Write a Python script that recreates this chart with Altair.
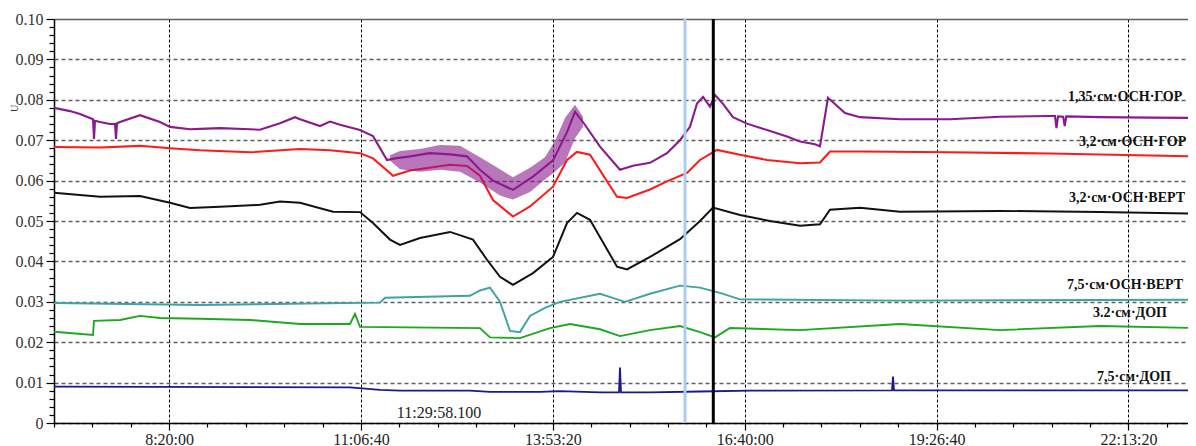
import altair as alt
import pandas as pd

# time in seconds since midnight, values in U
purple_t = [24000, 24834, 25355, 26033, 26085, 26137, 26398, 26919, 27179, 27231, 27283, 27440, 28482, 29525,
            30046, 31088, 31610, 32652, 34215, 34737, 35779, 36561, 36822, 37864, 38385, 38906, 39949, 40626,
            41356, 41773, 42555, 43598, 44640, 45526, 46203, 46880, 47923, 48965, 50008, 50738, 51155, 51571,
            52458, 53500, 54177, 55064, 55950, 56627, 57148, 57513, 57826, 58191, 58452, 58868, 59389, 60119,
            61162, 62204, 62882, 63663, 63924, 64341, 65227, 66009, 68094, 70700, 73306, 75912,
            76172, 76250, 76330, 76600, 76680, 76760, 78518, 81124, 83469]
purple_v = [0.0780, 0.0772, 0.0765, 0.0752, 0.0703, 0.0748, 0.0745, 0.0740, 0.0740, 0.0703, 0.0742, 0.0745, 0.0762, 0.0745,
            0.0733, 0.0727, 0.0728, 0.0730, 0.0727, 0.0726, 0.0742, 0.0757, 0.0752, 0.0735, 0.0746, 0.0738, 0.0725, 0.0710,
            0.0651, 0.0655, 0.0660, 0.0668, 0.0665, 0.0660, 0.0627, 0.0600, 0.0577, 0.0610, 0.0650, 0.0720, 0.0770, 0.0745,
            0.0684, 0.0627, 0.0637, 0.0644, 0.0668, 0.0700, 0.0733, 0.0791, 0.0807, 0.0783, 0.0812, 0.0790, 0.0757, 0.0741,
            0.0725, 0.0709, 0.0697, 0.0690, 0.0685, 0.0805, 0.0767, 0.0757, 0.0752, 0.0752, 0.0758, 0.0760,
            0.0760, 0.0730, 0.0759, 0.0758, 0.0735, 0.0759, 0.0757, 0.0756, 0.0755]

# noisy band of the purple trace
band_t = [41512, 42034, 43076, 44119, 45161, 46203, 47245, 47923, 48809, 49591, 50112, 50633, 51155, 51571]
band_lo = [0.0650, 0.0628, 0.0622, 0.0627, 0.0622, 0.0595, 0.0563, 0.0553, 0.0572, 0.0603, 0.0622, 0.0645, 0.0705, 0.0733]
band_hi = [0.0663, 0.0673, 0.0678, 0.0688, 0.0686, 0.0658, 0.0628, 0.0608, 0.0632, 0.0658, 0.0698, 0.0755, 0.0788, 0.0758]

red_t = [24000, 26398, 28482, 30046, 31610, 34215, 36822, 38385, 39949, 40626, 41356, 41669, 42555, 44640, 45526,
         46203, 46880, 47923, 48809, 50008, 50738, 51259, 51936, 53344, 53865, 55064, 55950, 56992, 57670, 58556,
         59754, 61162, 62882, 63924, 64445, 66009, 70700, 75912, 83469]
red_v = [0.0683, 0.0682, 0.0686, 0.0680, 0.0675, 0.0670, 0.0678, 0.0675, 0.0668, 0.0655, 0.0625, 0.0612, 0.0625, 0.0639, 0.0636,
         0.0612, 0.0552, 0.0511, 0.0536, 0.0585, 0.0651, 0.0671, 0.0664, 0.0560, 0.0557, 0.0578, 0.0598, 0.0619, 0.0651, 0.0676,
         0.0664, 0.0651, 0.0643, 0.0645, 0.0672, 0.0672, 0.0670, 0.0667, 0.0660]

black_t = [24000, 26398, 28482, 30046, 31088, 32652, 34737, 35779, 36822, 38541, 39949, 40626, 41512, 42034, 43076,
           44640, 45838, 46568, 47245, 47923, 48965, 50008, 50738, 51259, 51936, 53344, 53865, 55064, 56627, 57670,
           58347, 59754, 61318, 62882, 63924, 64445, 66009, 68094, 73306, 78518, 83469]
black_v = [0.0570, 0.0560, 0.0562, 0.0545, 0.0532, 0.0535, 0.0540, 0.0548, 0.0545, 0.0523, 0.0522, 0.0495, 0.0454, 0.0441, 0.0458,
           0.0473, 0.0454, 0.0404, 0.0362, 0.0342, 0.0371, 0.0411, 0.0495, 0.0520, 0.0503, 0.0387, 0.0380, 0.0411, 0.0455, 0.0500,
           0.0533, 0.0515, 0.0500, 0.0488, 0.0492, 0.0528, 0.0533, 0.0523, 0.0525, 0.0522, 0.0518]

teal_t = [24000, 31610, 40991, 41252, 45682, 46203, 46724, 47245, 47767, 48288, 48809, 49591, 50373, 52458, 53761,
          55064, 56627, 57670, 58712, 59754, 68094, 83469]
teal_v = [0.0297, 0.0292, 0.0298, 0.0310, 0.0315, 0.0328, 0.0335, 0.0300, 0.0228, 0.0225, 0.0265, 0.0285, 0.0300, 0.0320, 0.0300,
          0.0320, 0.0340, 0.0335, 0.0322, 0.0306, 0.0303, 0.0305]

green_t = [24000, 26033, 26085, 27440, 28482, 29525, 31610, 34215, 36822, 39428, 39688, 39949, 46203, 46724, 48288,
           49852, 50894, 52458, 53500, 55064, 56627, 57670, 58452, 59233, 62882, 68094, 73306, 78518, 83469]
green_v = [0.0226, 0.0218, 0.0253, 0.0255, 0.0265, 0.0260, 0.0258, 0.0255, 0.0245, 0.0245, 0.0270, 0.0238, 0.0235, 0.0212, 0.0210,
           0.0235, 0.0245, 0.0232, 0.0215, 0.0230, 0.0240, 0.0225, 0.0212, 0.0235, 0.0230, 0.0245, 0.0230, 0.0240, 0.0235]

navy_t = [24000, 39428, 40991, 42034, 45682, 46724, 49330, 50373, 52458, 53448, 53500, 53552, 55064, 57670, 60276,
          67677, 67729, 67781, 83469]
navy_v = [0.0090, 0.0088, 0.0082, 0.0080, 0.0080, 0.0077, 0.0077, 0.0079, 0.0076, 0.0076, 0.0137, 0.0076, 0.0076, 0.0078, 0.0080,
          0.0081, 0.0115, 0.0081, 0.0081]

series_names = ["p", "r", "k", "c", "g", "n"]
series_colors = ["#8a1a8e", "#ff1a1a", "#111111", "#3fa3a3", "#1ea81e", "#1a1a8c"]
series_widths = [2.1, 1.8, 2.0, 1.6, 2.1, 1.5]

label_texts = ["1,35·см·ОСН·ГОР", "3,2·см·ОСН·ГОР", "3,2·см·ОСН·ВЕРТ", "7,5·см·ОСН·ВЕРТ", "3.2·см·ДОП", "7,5·см·ДОП"]
label_t = [76850, 77420, 76902, 76798, 78153, 78362]
label_v = [0.0807, 0.0696, 0.0557, 0.0342, 0.0273, 0.0115]

cursor_t = [56888, 58363]
cursor_colors = ["#a9cdf0", "#000000"]

stamp_text = ["11:29:58.100"]
stamp_t = [44066]
stamp_v = [0.0025]

rows = []
for name, ts, vs in zip(series_names,
                        [purple_t, red_t, black_t, teal_t, green_t, navy_t],
                        [purple_v, red_v, black_v, teal_v, green_v, navy_v]):
    for t, v in zip(ts, vs):
        rows.append({"s": name, "t": t, "v": v})
df = pd.DataFrame(rows)
band_df = pd.DataFrame({"t": band_t, "lo": band_lo, "hi": band_hi})
lab_df = pd.DataFrame({"t": label_t, "v": label_v, "txt": label_texts})
cur_df = pd.DataFrame({"t": cursor_t, "c": cursor_colors})
stamp_df = pd.DataFrame({"t": stamp_t, "v": stamp_v, "txt": stamp_text})

FONT = "Liberation Serif"
XMAJ = "datum.value % 10000 === 0"
YMAJ = "round(datum.value * 1000) % 10 === 0"

xaxis = alt.Axis(
    values=list(range(24000, 83001, 2000)), tickCount=1000,
    labelExpr=f"{XMAJ} ? utcFormat(datum.value * 1000, '%-H:%M:%S') : ''",
    tickSize={"condition": {"test": XMAJ, "value": 7}, "value": 4},
    gridOpacity={"condition": {"test": XMAJ, "value": 1}, "value": 0},
    grid=True, gridColor="#000000", gridDash=[3, 2], gridWidth=1,
    domainColor="#000000", domainWidth=1.5, tickColor="#000000", tickWidth=1.2,
    labelFont=FONT, labelFontSize=16, labelColor="#222222", labelPadding=1,
    labelOverlap=False, labelFlush=False, title=None,
)
yaxis = alt.Axis(
    values=[i / 500 for i in range(51)], tickCount=1000,
    labelExpr=f"datum.value == 0 ? '0' : ({YMAJ} ? format(datum.value, '.2f') : '')",
    tickSize={"condition": {"test": YMAJ, "value": 8}, "value": 5},
    gridOpacity={"condition": {"test": YMAJ, "value": 1}, "value": 0},
    gridDash={"condition": {"test": "datum.value > 0.0999", "value": []}, "value": [4, 3]},
    grid=True, gridColor="#5f5f5f", gridWidth=1.4,
    domainColor="#000000", domainWidth=1.5, tickColor="#000000", tickWidth=1.2,
    labelFont=FONT, labelFontSize=16, labelColor="#333333", labelPadding=3,
    labelOverlap=False, labelFlush=False,
    title="U", titleFont=FONT, titleFontSize=10, titleFontWeight="normal", titleColor="#333333",
    titleX=-37, titleY=89, titleAngle=270, titleBaseline="alphabetic", titleAlign="center",
)

PLOT_W = 1134
xs = alt.Scale(domain=[24000, 83105], nice=False, zero=False)
ys = alt.Scale(domain=[0, 0.1], nice=False, zero=False)

lines = alt.Chart(df).mark_line(clip=True).encode(
    x=alt.X("t:Q", scale=xs, axis=xaxis),
    y=alt.Y("v:Q", scale=ys, axis=yaxis),
    color=alt.Color("s:N", scale=alt.Scale(domain=series_names, range=series_colors), legend=None),
    strokeWidth=alt.StrokeWidth("s:N", scale=alt.Scale(domain=series_names, range=series_widths), legend=None),
    order="t:Q",
)
band = alt.Chart(band_df).mark_area(color="#8a1a8e", opacity=0.6, clip=True).encode(
    x="t:Q", y="lo:Q", y2="hi:Q"
)
cursors = alt.Chart(cur_df).mark_rule(strokeWidth=3).encode(
    x="t:Q",
    color=alt.Color("c:N", scale=None, legend=None),
)
labels = alt.Chart(lab_df).mark_text(
    align="left", baseline="middle", font=FONT, fontWeight="bold", fontSize=14, color="#111111", clip=True
).encode(x="t:Q", y="v:Q", text="txt:N")
stamp = alt.Chart(stamp_df).mark_text(
    align="center", baseline="middle", font=FONT, fontSize=16, color="#222222"
).encode(x="t:Q", y="v:Q", text="txt:N")

chart = alt.layer(lines, band, cursors, labels, stamp).properties(
    width=PLOT_W, height=404,
    autosize=alt.AutoSizeParams(type="none"),
    padding={"left": 46, "top": 11, "right": 0, "bottom": 23},
).configure_view(stroke=None)

chart.save("out.html", embed_options={"renderer": "svg", "actions": False})
